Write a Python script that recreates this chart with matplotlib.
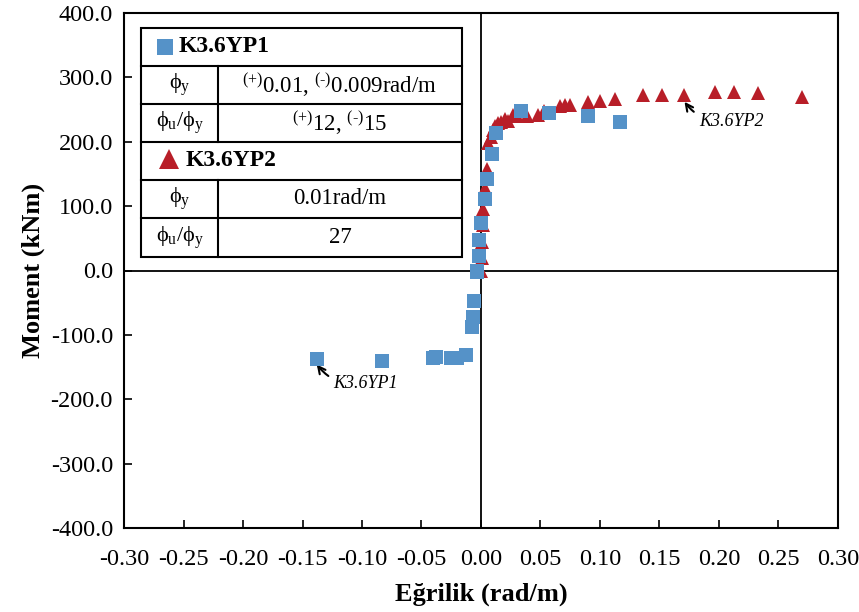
import numpy as np
import matplotlib.pyplot as plt

plt.rcParams['font.family'] = ['Liberation Serif', 'DejaVu Serif']
plt.rcParams['mathtext.fontset'] = 'custom'
plt.rcParams['mathtext.rm'] = 'Liberation Serif'
plt.rcParams['mathtext.it'] = 'Liberation Serif:italic'
plt.rcParams['axes.unicode_minus'] = False

# K3.6YP1 (blue squares)
yp1_x = [-0.138, -0.083, -0.040, -0.038, -0.025, -0.020, -0.0126, -0.0076, -0.0067, -0.0055, -0.003,
         -0.003, -0.002, -0.002, 0.000, 0.003, 0.005, 0.009, 0.013, 0.034, 0.057, 0.090, 0.117]
yp1_y = [-137, -140, -136, -135, -136, -136, -131, -88, -72, -48, -2,
         0, 22, 47, 74, 111, 142, 181, 214, 248, 245, 240, 231]

# K3.6YP2 (red triangles)
yp2_x = [0.000, 0.0005, 0.001, 0.0015, 0.002, 0.003, 0.005, 0.006, 0.008, 0.010, 0.012, 0.014,
         0.017, 0.020, 0.023, 0.027, 0.030, 0.039, 0.048, 0.053, 0.066, 0.071, 0.075, 0.090,
         0.100, 0.113, 0.136, 0.152, 0.171, 0.197, 0.213, 0.233, 0.270]
yp2_y = [0, 20, 45, 70, 95, 128, 158, 198, 207, 218, 224, 229,
         231, 235, 232, 241, 240, 240, 242, 248, 255, 257, 257, 261,
         263, 266, 272, 272, 272, 277, 277, 275, 269]

xticks = np.arange(-0.30, 0.301, 0.05)
yticks = np.arange(-400, 401, 100)

# table contents
header1 = "K3.6YP1"
header2 = "K3.6YP2"
row_labels = ["ϕ$_\\mathrm{y}$", "ϕ$_\\mathrm{u}$/ϕ$_\\mathrm{y}$"]
yp1_vals = ["$^{(+)}$0.01, $^{(\u2010)}$0.009rad/m", "$^{(+)}$12, $^{(\u2010)}$15"]
yp2_vals = ["0.01rad/m", "27"]

blue = '#5592C8'
red = '#B81E28'

fig = plt.figure(figsize=(8.59, 6.12), dpi=100)
ax = fig.add_axes([124/859, 1 - 528/612, 714/859, 515/612])

ax.plot(yp2_x, yp2_y, '^', color=red, ms=10.5, mew=0, zorder=3)
ax.plot(yp1_x, yp1_y, 's', color=blue, ms=9.5, mew=0, zorder=4)

ax.axhline(0, color='black', lw=1.3, zorder=2)
ax.axvline(0, color='black', lw=1.3, zorder=2)

ax.set_xlim(-0.3, 0.3)
ax.set_ylim(-400, 400)
ax.set_xticks(xticks)
ax.set_yticks(yticks)
ax.set_xticklabels([f"{v:.2f}" if abs(v) > 1e-9 else "0.00" for v in xticks])
ax.set_yticklabels([f"{v:.1f}" if v != 0 else "0.0" for v in yticks])
ax.tick_params(direction='in', length=6, width=1.2, labelsize=17.5)
ax.tick_params(axis='x', pad=15)
ax.tick_params(axis='y', pad=8)
for s in ax.spines.values():
    s.set_linewidth(1.5)

ax.set_xlabel("Eğrilik (rad/m)", fontsize=19, fontweight='bold', labelpad=9)
ax.set_ylabel("Moment (kNm)", fontsize=19, fontweight='bold', labelpad=4)

# annotations
ax.annotate("K3.6YP1", xy=(-0.138, -146), xytext=(-0.124, -176), fontsize=13, style='italic',
            va='center', ha='left',
            arrowprops=dict(arrowstyle='->', color='black', lw=1.5, connectionstyle='arc3,rad=-0.3',
                            shrinkA=2, shrinkB=0))
ax.annotate("K3.6YP2", xy=(0.171, 262), xytext=(0.183, 232), fontsize=13, style='italic',
            va='center', ha='left',
            arrowprops=dict(arrowstyle='->', color='black', lw=1.5, connectionstyle='arc3,rad=-0.3',
                            shrinkA=2, shrinkB=0))

# table in axes fraction
tl, tr, tc = 0.0238, 0.473, 0.132
rows = [0.971, 0.897, 0.823, 0.750, 0.676, 0.602, 0.526]
tkw = dict(transform=ax.transAxes, zorder=6)
ax.add_patch(plt.Rectangle((tl, rows[-1]), tr - tl, rows[0] - rows[-1], facecolor='white',
                           edgecolor='black', lw=1.5, **tkw))
for r in rows[1:-1]:
    ax.plot([tl, tr], [r, r], color='black', lw=1.5, **tkw)
for a, b in [(1, 3), (4, 6)]:
    ax.plot([tc, tc], [rows[a], rows[b]], color='black', lw=1.5, **tkw)

def mid(i):
    return (rows[i] + rows[i + 1]) / 2

ax.plot([0.057], [mid(0)], 's', color=blue, ms=12, mew=0, transform=ax.transAxes, zorder=7)
ax.text(0.077, mid(0), header1, fontsize=17, fontweight='bold', va='center', ha='left', **tkw)
ax.plot([0.063], [mid(3) + 0.004], '^', color=red, ms=14, mew=0, transform=ax.transAxes, zorder=7)
ax.text(0.086, mid(3), header2, fontsize=17, fontweight='bold', va='center', ha='left', **tkw)

for i, (lab, v1, v2) in enumerate(zip(row_labels, yp1_vals, yp2_vals)):
    ax.text((tl + tc) / 2, mid(1 + i), lab, fontsize=16, va='center', ha='center', **tkw)
    ax.text((tc + tr) / 2, mid(1 + i), v1, fontsize=16.5, va='center', ha='center', **tkw)
    ax.text((tl + tc) / 2, mid(4 + i), lab, fontsize=16, va='center', ha='center', **tkw)
    ax.text((tc + tr) / 2, mid(4 + i), v2, fontsize=16.5, va='center', ha='center', **tkw)

fig.savefig("out.png", dpi=100)
